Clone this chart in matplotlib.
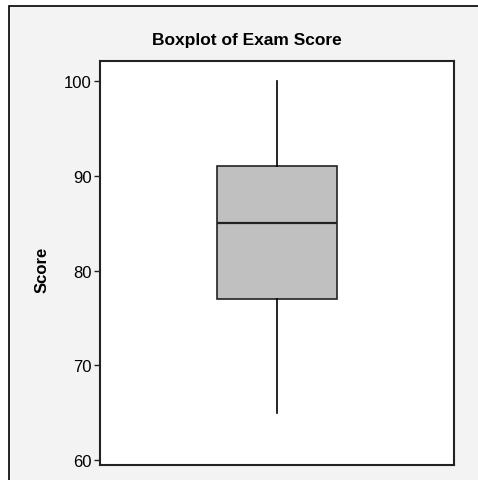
import matplotlib
matplotlib.use("Agg")
import matplotlib.pyplot as plt
from matplotlib.patches import Rectangle
from matplotlib.lines import Line2D

plt.rcParams["font.family"] = ["Liberation Sans", "DejaVu Sans"]

# Box summary
label = "Exam Score"
whisker_low = 65
q1 = 77
median = 85
q3 = 91
whisker_high = 100
y_ticks = [60, 70, 80, 90, 100]

W, H = 478, 481
fig = plt.figure(figsize=(W / 100, H / 100), dpi=100)
fig.patch.set_facecolor("#f3f3f3")

# white strips above and left of the gray panel, plus its black frame lines
x0, y0 = 9 / W, 1 - 7 / H
fig.patches.append(Rectangle((0, y0), 1, 1 - y0, transform=fig.transFigure,
                             facecolor="white", edgecolor="none", zorder=-1))
fig.patches.append(Rectangle((0, 0), x0, 1, transform=fig.transFigure,
                             facecolor="white", edgecolor="none", zorder=-1))
fig.add_artist(Line2D([x0, x0, 1.02], [-0.02, y0, y0], transform=fig.transFigure,
                      color="black", linewidth=1.2, solid_capstyle="butt",
                      solid_joinstyle="miter", clip_on=False, zorder=-0.5))

ax = fig.add_axes([100 / W, 1 - 466 / H, 354 / W, 404 / H])
ax.set_facecolor("white")

stats = [{"med": median, "q1": q1, "q3": q3, "whislo": whisker_low,
          "whishi": whisker_high, "fliers": [], "label": label}]
ax.bxp(stats, positions=[0], widths=0.337, patch_artist=True, showcaps=False,
       boxprops=dict(facecolor="#c0c0c0", edgecolor="#222222", linewidth=1.2),
       medianprops=dict(color="#222222", linewidth=1.6),
       whiskerprops=dict(color="black", linewidth=1.2))

ax.set_xlim(-0.5, 0.5)
ax.set_ylim(59.5, 102.1)
ax.set_xticks([])
ax.set_yticks(y_ticks)
ax.tick_params(axis="y", labelsize=12, length=4, width=1, colors="#222222",
               labelcolor="black", pad=2)
for sp in ax.spines.values():
    sp.set_linewidth(1.5)
    sp.set_color("#222222")

fig.text(247 / W, 1 - 40 / H, "Boxplot of Exam Score", ha="center", va="center",
         fontsize=12.5, fontweight="bold")
fig.text(42 / W, 1 - 270 / H, "Score", ha="center", va="center", rotation=90,
         fontsize=12, fontweight="bold")

fig.savefig("out.png", dpi=100)
